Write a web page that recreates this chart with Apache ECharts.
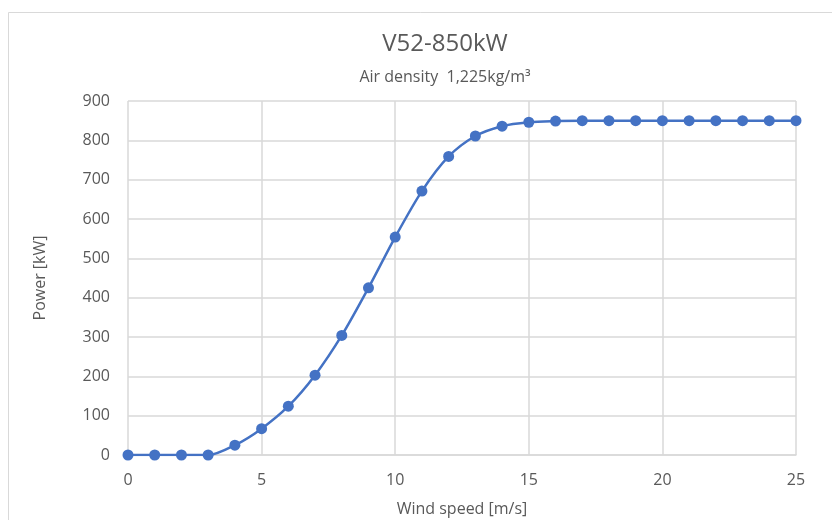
<!DOCTYPE html>
<html>
<head>
<meta charset="utf-8">
<script src="https://cdn.jsdelivr.net/npm/echarts@6/dist/echarts.min.js"></script>
<style>
  html, body { margin: 0; padding: 0; background: #fff; }
  #chart { width: 832px; height: 520px; }
</style>
</head>
<body>
<div id="chart"></div>
<script>
var windSpeed = [0, 1, 2, 3, 4, 5, 6, 7, 8, 9, 10, 11, 12, 13, 14, 15, 16, 17, 18, 19, 20, 21, 22, 23, 24, 25];
var power = [0, 0, 0, 0, 25, 67, 124, 203, 304, 425, 554, 671, 759, 811, 836, 846, 849, 850, 850, 850, 850, 850, 850, 850, 850, 850];

var chart = echarts.init(document.getElementById('chart'));
var font = 'Open Sans';
var option = {
    backgroundColor: '#fff',
    animation: false,
    title: [
        {
            text: 'V52-850kW',
            left: 440, top: 27, textAlign: 'center',
            textStyle: { fontFamily: font, fontSize: 24, fontWeight: 'normal', color: '#595959' }
        },
        {
            text: 'Air density  1,225kg/m³',
            left: 440, top: 64, textAlign: 'center',
            textStyle: { fontFamily: font, fontSize: 16, fontWeight: 'normal', color: '#595959' }
        }
    ],
    graphic: [{
        type: 'rect',
        shape: { x: 8.5, y: 12.5, width: 840, height: 520 },
        style: { fill: 'none', stroke: '#d9d9d9', lineWidth: 1 },
        silent: true
    }],
    grid: { left: 128, right: 36, top: 101, bottom: 65, outerBoundsMode: 'none', containLabel: false },
    xAxis: {
        type: 'value',
        min: 0, max: 25, interval: 5,
        name: 'Wind speed [m/s]',
        nameLocation: 'middle',
        nameGap: 46,
        nameTextStyle: { fontFamily: font, fontSize: 16, color: '#595959' },
        axisLine: { show: true, lineStyle: { color: '#d9d9d9', width: 1.5 } },
        axisTick: { show: false },
        axisLabel: { fontFamily: font, fontSize: 16, color: '#595959', margin: 17 },
        splitLine: { show: true, lineStyle: { color: '#d9d9d9', width: 1.5 } }
    },
    yAxis: {
        type: 'value',
        min: 0, max: 900, interval: 100,
        name: 'Power [kW]',
        nameLocation: 'middle',
        nameGap: 80,
        nameTextStyle: { fontFamily: font, fontSize: 16, color: '#595959' },
        axisLine: { show: false },
        axisTick: { show: false },
        axisLabel: { fontFamily: font, fontSize: 16, color: '#595959', margin: 18 },
        splitLine: { lineStyle: { color: '#d9d9d9', width: 1.5 } }
    },
    series: [{
        type: 'line',
        data: windSpeed.map(function (x, i) { return [x, power[i]]; }),
        smooth: 0.3,
        symbol: 'circle',
        symbolSize: 11,
        itemStyle: { color: '#4472c4' },
        lineStyle: { color: '#4472c4', width: 2.5 }
    }]
};
chart.setOption(option);
</script>
</body>
</html>
